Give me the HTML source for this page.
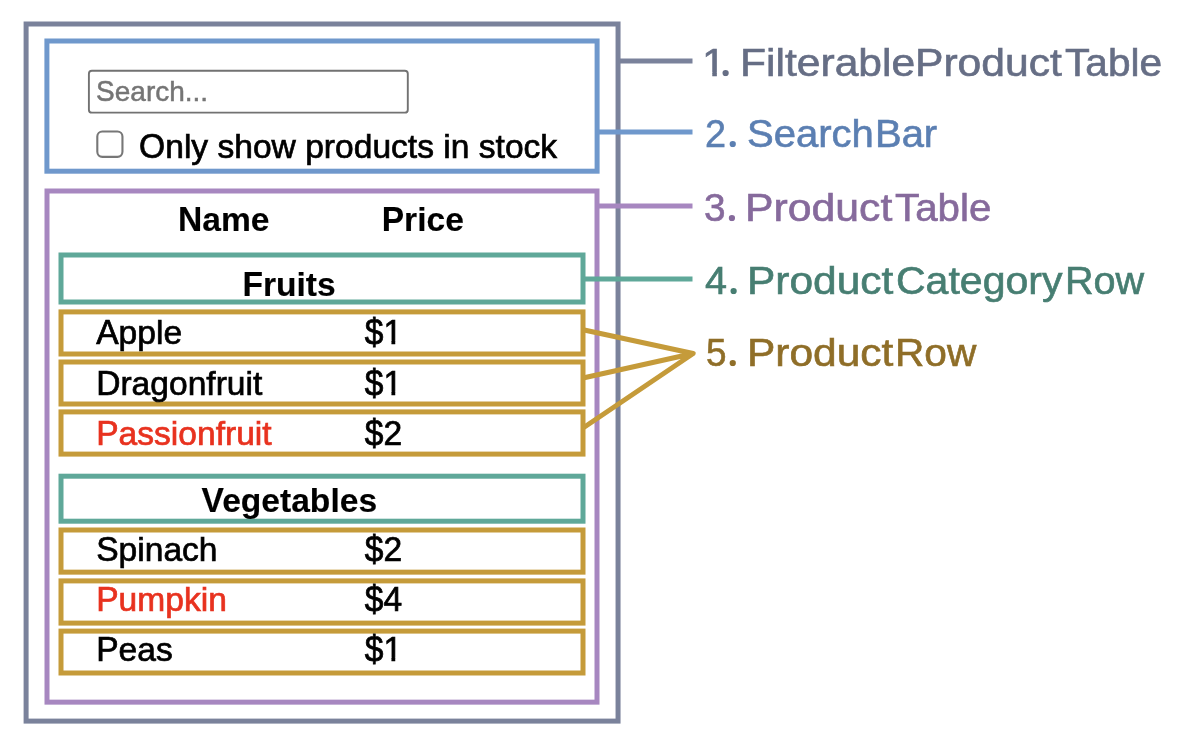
<!DOCTYPE html>
<html lang="en">
<head>
<meta charset="utf-8">
<title>Thinking in React – component outline</title>
<style>
  html, body { margin: 0; padding: 0; background: #ffffff; }
  body { width: 1200px; height: 744px; position: relative; overflow: hidden;
         font-family: "Liberation Sans", Arial, Helvetica, sans-serif; color: #000; }
  #stage { position: absolute; left: 0; top: 0; width: 1200px; height: 744px; will-change: transform; }
  #outline { position: absolute; left: 0; top: 0; }
  .t { position: absolute; white-space: nowrap; font-size: 33.6px; line-height: 40px; height: 40px;
       transform: scaleY(1.0); transform-origin: 0 0; -webkit-text-stroke: 0.7px currentColor; }
  .cap { display: inline-block; transform: scaleY(1.045); transform-origin: 0 31px; }
  /* Helvetica-style "1" (no foot serif): clip the foot of the Liberation glyph */
  .one { display: inline-block; clip-path: polygon(0 0, 100% 0, 100% 28px, 11.85px 28px, 11.85px 100%, 8.1px 100%, 8.1px 28px, 0 28px); }
  .dol { display: inline-block; transform: translateY(0.8px) scaleY(1.045); transform-origin: 0 31px; }
  .one38 { display: inline-block; clip-path: polygon(0 0, 100% 0, 100% 32px, 13.25px 32px, 13.25px 100%, 9.2px 100%, 9.2px 32px, 0 32px); }
  .b { font-weight: bold; -webkit-text-stroke: 0.15px currentColor; }
  .red { color: #e8321f; }
  .ph { position: absolute; font-size: 28.0px; line-height: 40px; height: 40px; color: #757575;
        white-space: nowrap; transform: scaleY(1.0); transform-origin: 0 0; -webkit-text-stroke: 0.5px currentColor; }
  .labrow { position: absolute; left: 0; width: 1200px; height: 46px; font-size: 38px; line-height: 46px;
            white-space: nowrap; -webkit-text-stroke: 0.6px currentColor; }
  .lab { position: absolute; top: 0; transform-origin: 0 0; }
  .dot { font-size: 66px; top: -10px; clip-path: circle(3.12px at 9.22px 43.1px); }
</style>
</head>
<body>
<div id="stage">
  <svg id="outline" width="1200" height="744" viewBox="0 0 1200 744" fill="none" stroke-width="5.0">
    <!-- 1. FilterableProductTable -->
    <rect x="26.1" y="24" width="591.95" height="697.1" stroke="#7a829b"/>
    <line x1="618.2" y1="61" x2="692.5" y2="61" stroke="#7a829b"/>
    <!-- 3. ProductTable -->
    <rect x="47" y="191" width="550" height="511.15" stroke="#a787c0"/>
    <line x1="597" y1="205.9" x2="692.5" y2="205.9" stroke="#a787c0"/>
    <!-- 2. SearchBar -->
    <rect x="46.9" y="41" width="550.2" height="130.2" stroke="#6f98cc"/>
    <line x1="597" y1="131.9" x2="692.5" y2="131.9" stroke="#6f98cc"/>
    <!-- 4. ProductCategoryRow -->
    <rect x="61" y="255" width="522" height="47" stroke="#5fa899"/>
    <rect x="61" y="476.2" width="522" height="45" stroke="#5fa899"/>
    <line x1="583" y1="279" x2="692.5" y2="279" stroke="#5fa899"/>
    <!-- 5. ProductRow -->
    <g stroke="#c59b3a">
      <rect x="61" y="311.9" width="522" height="42.1"/>
      <rect x="61" y="362" width="522" height="42"/>
      <rect x="61" y="411.9" width="522" height="42.2"/>
      <rect x="61" y="530" width="522" height="42.15"/>
      <rect x="61" y="580.9" width="522" height="42.2"/>
      <rect x="61" y="631.1" width="522" height="41.9"/>
      <path d="M583,329.8 L693.2,353.5 L583,378 M583,428 L693.2,353.5" stroke-linejoin="round"/>
    </g>
    <!-- search input + checkbox chrome -->
    <rect x="88.9" y="70.75" width="318.9" height="41.9" rx="3" stroke="#727272" stroke-width="1.9" fill="#fff"/>
    <rect x="97.3" y="131.55" width="25.15" height="25.3" rx="5" stroke="#777777" stroke-width="2.1" fill="#fff"/>
  </svg>

  <div class="ph" id="search" style="left:96.05px; top:72px;"><span class="cap" style="transform-origin:0 29px; transform:scaleY(1.06);">S</span>earch...</div>
  <div class="t" id="only" style="left:139.1px; top:127px;"><span class="cap">O</span>nly show products in stock</div>
  <div class="t b" id="name" style="left:178.1px; top:200px;"><span class="cap">N</span>ame</div>
  <div class="t b" id="price" style="left:381.7px; top:200px;"><span class="cap">P</span>rice</div>
  <div class="t b" id="fruits" style="left:242.4px; top:265px;"><span class="cap">F</span>ruits</div>
  <div class="t" id="apple" style="left:96.2px; top:313px;"><span class="cap">A</span>pple</div>
  <div class="t" id="d1" style="left:364.7px; top:313px;"><span class="cap"><span class="dol">$</span><span class="one">1</span></span></div>
  <div class="t" id="dragon" style="left:96.2px; top:364px;"><span class="cap">D</span>ragonfruit</div>
  <div class="t" id="d1b" style="left:364.7px; top:364px;"><span class="cap"><span class="dol">$</span><span class="one">1</span></span></div>
  <div class="t red" id="passion" style="left:96.2px; top:414px;"><span class="cap">P</span>assionfruit</div>
  <div class="t" id="d2" style="left:364.7px; top:414px;"><span class="cap"><span class="dol">$</span>2</span></div>
  <div class="t b" id="veg" style="left:201.6px; top:481px;"><span class="cap" style="margin-right:-1.85px">V</span>egetables</div>
  <div class="t" id="spinach" style="left:96.2px; top:530px;"><span class="cap">S</span>pinach</div>
  <div class="t" id="d2b" style="left:364.7px; top:530px;"><span class="cap"><span class="dol">$</span>2</span></div>
  <div class="t red" id="pumpkin" style="left:96.2px; top:580px;"><span class="cap">P</span>umpkin</div>
  <div class="t" id="d4" style="left:364.7px; top:580px;"><span class="cap"><span class="dol">$</span>4</span></div>
  <div class="t" id="peas" style="left:96.2px; top:630px;"><span class="cap">P</span>eas</div>
  <div class="t" id="d1c" style="left:364.7px; top:630px;"><span class="cap"><span class="dol">$</span><span class="one">1</span></span></div>

  <div class="labrow" id="lab1" style="top:40px; color:#666e85;"><span class="lab" style="left:701.92px; transform:scaleX(1.1200);"><span class="one38">1</span></span><span class="lab dot" style="left:716.38px;">. </span><span class="lab" style="left:739.97px; transform:scaleX(1.1208);">Filterable</span><span class="lab" style="left:915.27px; transform:scaleX(1.1217);">Product</span><span class="lab" style="left:1065.02px; transform:scaleX(1.0696);">Table</span></div>
  <div class="labrow" id="lab2" style="top:111px; color:#5b7fb2;"><span class="lab" style="left:704.80px; transform:scaleX(0.9949);">2</span><span class="lab dot" style="left:723.53px;">. </span><span class="lab" style="left:746.76px; transform:scaleX(1.0537);">Search</span><span class="lab" style="left:874.66px; transform:scaleX(1.0512);">Bar</span></div>
  <div class="labrow" id="lab3" style="top:185px; color:#866a9c;"><span class="lab" style="left:704.29px; transform:scaleX(1.0204);">3</span><span class="lab dot" style="left:722.68px;">. </span><span class="lab" style="left:744.96px; transform:scaleX(1.1248);">Product</span><span class="lab" style="left:895.32px; transform:scaleX(1.0608);">Table</span></div>
  <div class="labrow" id="lab4" style="top:258px; color:#477e72;"><span class="lab" style="left:705.31px; transform:scaleX(1.0417);">4</span><span class="lab dot" style="left:724.38px;">. </span><span class="lab" style="left:746.98px; transform:scaleX(1.1178);">Product</span><span class="lab" style="left:896.24px; transform:scaleX(1.0794);">Category</span><span class="lab" style="left:1065.19px; transform:scaleX(1.0421);">Row</span></div>
  <div class="labrow" id="lab5" style="top:330px; color:#8f6e28;"><span class="lab" style="left:705.62px; transform:scaleX(0.9694);">5</span><span class="lab dot" style="left:723.53px;">. </span><span class="lab" style="left:746.98px; transform:scaleX(1.1178);">Product</span><span class="lab" style="left:894.51px; transform:scaleX(1.0691);">Row</span></div>
</div>
</body>
</html>
